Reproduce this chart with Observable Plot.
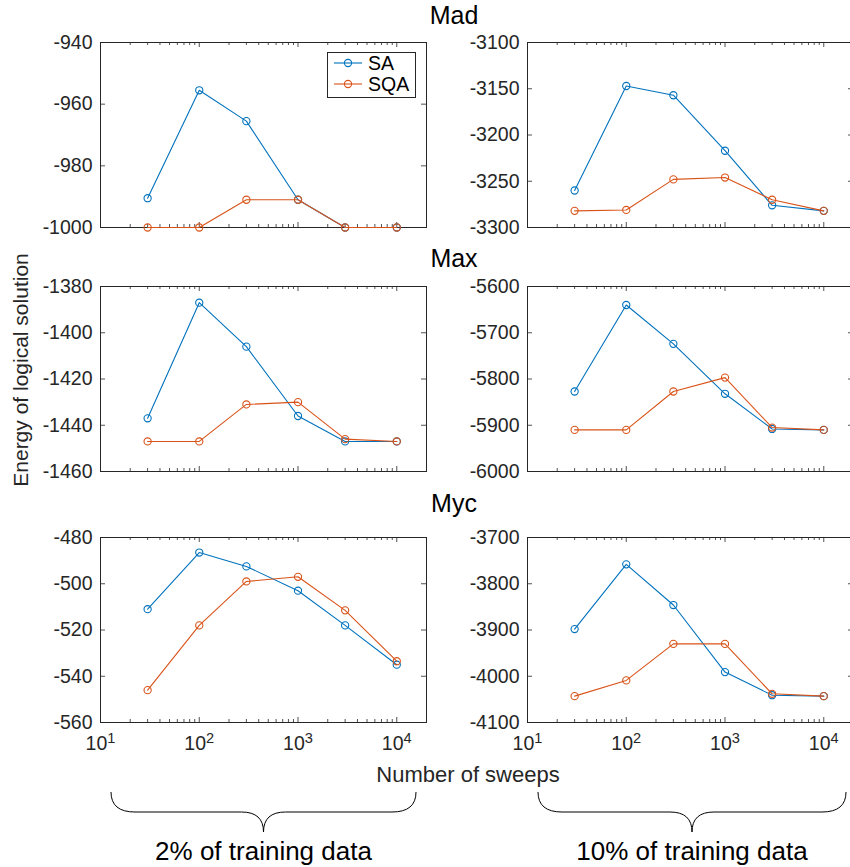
<!DOCTYPE html>
<html><head><meta charset="utf-8">
<script src="https://cdn.jsdelivr.net/npm/d3@7"></script>
<script src="https://cdn.jsdelivr.net/npm/@observablehq/plot@0.6"></script>
<style>
html,body{margin:0;padding:0;background:#fff;}
#root{position:relative;width:850px;height:867px;overflow:hidden;font-family:"Liberation Sans",Arial,Helvetica,sans-serif;}
#root > svg{position:absolute;}
</style></head><body><div id="root"></div>
<script>
// ---- data ----
const sweeps = [30, 100, 300, 1000, 3000, 10000];
const seriesNames = ["SA", "SQA"];
const seriesColors = ["#0072BD", "#D95319"];
const datasetNames = ["Mad", "Max", "Myc"];
const fractionLabels = ["2% of training data", "10% of training data"];
const xTickValues = [10, 100, 1000, 10000];
const xLabel = "Number of sweeps";
const yLabel = "Energy of logical solution";

const madSA2  = [-990.5, -955.5, -965.5, -991, -1000, -1000];
const madSQA2 = [-1000, -1000, -991, -991, -1000, -1000];
const madSA10  = [-3260, -3147, -3157, -3217, -3276, -3282];
const madSQA10 = [-3282, -3281, -3248, -3246, -3270, -3282];

const maxSA2  = [-1437, -1387, -1406, -1436, -1447, -1447];
const maxSQA2 = [-1447, -1447, -1431, -1430, -1446, -1447];
const maxSA10  = [-5827, -5640, -5724, -5832, -5908, -5910];
const maxSQA10 = [-5910, -5910, -5827, -5797, -5905, -5910];

const mycSA2  = [-511, -486.5, -492.5, -503, -518, -535];
const mycSQA2 = [-546, -518, -499, -497, -511.5, -533.5];
const mycSA10  = [-3898, -3758, -3846, -3991, -4041, -4043];
const mycSQA10 = [-4043, -4009, -3930, -3930, -4038, -4043];

const madTicks2  = [-1000, -980, -960, -940];
const madTicks10 = [-3300, -3250, -3200, -3150, -3100];
const maxTicks2  = [-1460, -1440, -1420, -1400, -1380];
const maxTicks10 = [-6000, -5900, -5800, -5700, -5600];
const mycTicks2  = [-560, -540, -520, -500, -480];
const mycTicks10 = [-4100, -4000, -3900, -3800, -3700];

// ---- layout ----
const axisColor = "#262626";
const font = '"Liberation Sans", Arial, Helvetica, sans-serif';
const colLeft = [100, 527];
const rowTop = [42, 286, 537];
const FW = 326, FH = 185;
const root = document.getElementById("root");

const panels = [
  {row: 0, col: 0, sa: madSA2, sqa: madSQA2, ticks: madTicks2},
  {row: 0, col: 1, sa: madSA10, sqa: madSQA10, ticks: madTicks10},
  {row: 1, col: 0, sa: maxSA2, sqa: maxSQA2, ticks: maxTicks2},
  {row: 1, col: 1, sa: maxSA10, sqa: maxSQA10, ticks: maxTicks10},
  {row: 2, col: 0, sa: mycSA2, sqa: mycSQA2, ticks: mycTicks2},
  {row: 2, col: 1, sa: mycSA10, sqa: mycSQA10, ticks: mycTicks10},
];

const minorX = [];
for (const p of [10, 100, 1000, 10000]) for (let k = 2; k <= 9; k++) { const v = k * p; if (v < 20000) minorX.push(v); }

for (const P of panels) {
  const bottom = P.row === 2;
  const ml = 70, mr = 2, mt = 10, mb = bottom ? 45 : 4;
  const rows = [];
  sweeps.forEach((x, i) => rows.push({x, y: P.sa[i], s: seriesNames[0]}));
  sweeps.forEach((x, i) => rows.push({x, y: P.sqa[i], s: seriesNames[1]}));
  const bySeries = name => rows.filter(d => d.s === name);
  const marks = [
    Plot.tickX(xTickValues, {x: d => d, insetTop: FH - 5, stroke: axisColor, strokeWidth: 0.8}),
    Plot.tickX(xTickValues, {x: d => d, insetBottom: FH - 5, stroke: axisColor, strokeWidth: 0.8}),
    Plot.tickX(minorX, {x: d => d, insetTop: FH - 3, stroke: axisColor, strokeWidth: 0.8}),
    Plot.tickX(minorX, {x: d => d, insetBottom: FH - 3, stroke: axisColor, strokeWidth: 0.8}),
    Plot.tickY(P.ticks, {y: d => d, insetRight: FW - 5, stroke: axisColor, strokeWidth: 0.8}),
    Plot.tickY(P.ticks, {y: d => d, insetLeft: FW - 5, stroke: axisColor, strokeWidth: 0.8}),
    Plot.frame({stroke: axisColor, strokeWidth: 1}),
    Plot.axisY({ticks: P.ticks, label: null, tickSize: 0, tickPadding: 8, tickFormat: d => String(d), fontSize: 19.5, fill: axisColor}),
  ];
  if (bottom) marks.push(Plot.axisX({ticks: xTickValues, label: null, tickSize: 0, tickPadding: 14, tickFormat: d => "10^" + Math.round(Math.log10(d)), fontSize: 19.5, fill: axisColor}));
  for (const name of seriesNames) {
    marks.push(Plot.line(bySeries(name), {x: "x", y: "y", stroke: "s", strokeWidth: 1.1}));
    marks.push(Plot.dot(bySeries(name), {x: "x", y: "y", stroke: "s", r: 3.6, strokeWidth: 1.1, fill: "none"}));
  }
  const svg = Plot.plot({
    width: ml + FW + mr, height: mt + FH + mb,
    marginLeft: ml, marginRight: mr, marginTop: mt, marginBottom: mb,
    x: {type: "log", domain: [10, 20000], axis: null, label: null},
    y: {domain: d3.extent(P.ticks), axis: null, label: null},
    color: {domain: seriesNames, range: seriesColors},
    style: {fontFamily: font, fontSize: "19.5px", color: axisColor, background: "transparent", overflow: "visible"},
    marks
  });
  svg.style.left = (colLeft[P.col] - ml) + "px";
  svg.style.top = (rowTop[P.row] - mt) + "px";
  // superscript exponents
  svg.querySelectorAll('[aria-label="x-axis tick label"] text').forEach(t => {
    const s = t.textContent;
    if (!s.includes("^")) return;
    const [base, exp] = s.split("^");
    t.textContent = "";
    const a = document.createElementNS("http://www.w3.org/2000/svg", "tspan");
    a.textContent = base;
    const b = document.createElementNS("http://www.w3.org/2000/svg", "tspan");
    b.textContent = exp;
    b.setAttribute("dy", "-0.5em");
    b.setAttribute("font-size", "0.75em");
    t.appendChild(a); t.appendChild(b);
  });
  root.appendChild(svg);
}

// ---- annotations overlay ----
const ov = d3.select(root).append("svg")
  .attr("width", 850).attr("height", 867)
  .style("left", "0px").style("top", "0px")
  .attr("font-family", font);

const titleY = [24, 267, 512];
datasetNames.forEach((n, i) => {
  ov.append("text").attr("x", 454).attr("y", titleY[i]).attr("text-anchor", "middle")
    .attr("font-size", 25).attr("fill", "#000").text(n);
});

ov.append("text").attr("transform", "translate(28,370) rotate(-90)")
  .attr("text-anchor", "middle").attr("font-size", 21).attr("fill", axisColor).text(yLabel);
ov.append("text").attr("x", 468).attr("y", 782).attr("text-anchor", "middle")
  .attr("font-size", 22).attr("fill", axisColor).text(xLabel);

// braces + group labels
const braces = [{x0: 111, x1: 416}, {x0: 538, x1: 846}];
braces.forEach((b, i) => {
  const m = (b.x0 + b.x1) / 2, top = 792, mid = 812, tip = 832;
  const path = `M${b.x0},${top} Q${b.x0},${mid} ${b.x0 + 24},${mid} L${m - 22},${mid} Q${m},${mid} ${m},${tip} Q${m},${mid} ${m + 22},${mid} L${b.x1 - 24},${mid} Q${b.x1},${mid} ${b.x1},${top}`;
  ov.append("path").attr("d", path).attr("fill", "none").attr("stroke", "#000").attr("stroke-width", 1);
  ov.append("text").attr("x", m).attr("y", 860).attr("text-anchor", "middle")
    .attr("font-size", 26).attr("fill", "#000").text(fractionLabels[i]);
});

// legend
const lg = ov.append("g");
lg.append("rect").attr("x", 327.5).attr("y", 52.5).attr("width", 88).attr("height", 45)
  .attr("fill", "#fff").attr("stroke", axisColor).attr("stroke-width", 1);
seriesNames.forEach((n, i) => {
  const y = 63 + i * 21;
  lg.append("line").attr("x1", 334).attr("x2", 362).attr("y1", y).attr("y2", y)
    .attr("stroke", seriesColors[i]).attr("stroke-width", 1.1);
  lg.append("circle").attr("cx", 348).attr("cy", y).attr("r", 3.6).attr("fill", "none")
    .attr("stroke", seriesColors[i]).attr("stroke-width", 1.1);
  lg.append("text").attr("x", 368).attr("y", y + 6.5).attr("font-size", 19.5).attr("fill", "#000").text(n);
});
</script></body></html>
